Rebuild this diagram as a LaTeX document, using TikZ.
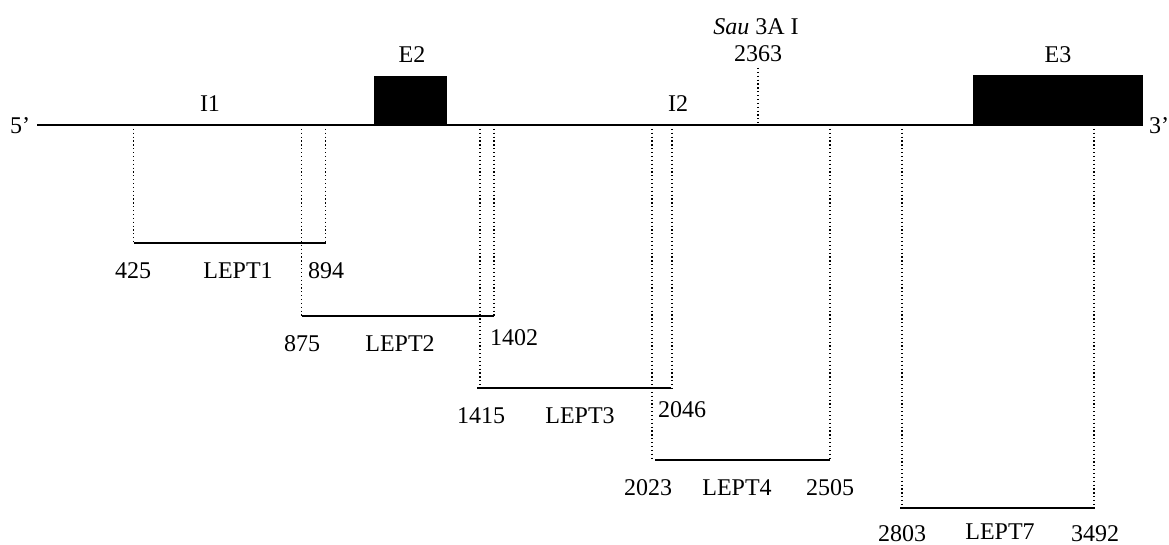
\documentclass[tikz,border=0pt]{standalone}
\usepackage{fontspec}
\setmainfont{Liberation Serif}
\begin{document}
\begin{tikzpicture}[x=0.75pt,y=-0.75pt,
  lbl/.style={inner sep=0pt,anchor=base,font=\fontsize{18}{21}\selectfont},
  strand/.style={line width=1.5pt},
  frag/.style={line width=1.5pt},
  guide/.style={dotted,line width=0.9pt},
  exon/.style={fill=black}]
\useasboundingbox (0,0) rectangle (1169,545);
% main strand
\coordinate (s5) at (37,125);
\coordinate (s3) at (1143,125);
\draw[strand] (s5) -- (s3);
% exons
\fill[exon] (374,76) rectangle (447,125);
\fill[exon] (973,75) rectangle (1143,125);
% labels on strand
\node[lbl] (l5) at (20,134) {5’};
\node[lbl] (l3) at (1159,134) {3’};
\node[lbl] (lI1) at (210,112) {I1};
\node[lbl] (lI2) at (678,112) {I2};
\node[lbl] (lE2) at (412,63) {E2};
\node[lbl] (lE3) at (1058,63) {E3};
\node[lbl] (lsau) at (756,35) {\textit{Sau} 3A I};
\node[lbl] (l2363) at (758,62) {2363};
\coordinate (sauTop) at (758,68);
\coordinate (sauBot) at (758,125);
\draw[guide] (sauTop) -- (sauBot);
% strand points
\coordinate (a425) at (133.5,125);
\coordinate (a875) at (301.5,125);
\coordinate (a894) at (325.5,125);
\coordinate (a1402) at (494,125);
\coordinate (a1415) at (480,125);
\coordinate (a2046) at (672,125);
\coordinate (a2023) at (652,125);
\coordinate (a2505) at (830,125);
\coordinate (a2803) at (902,125);
\coordinate (a3492) at (1094,125);
% fragment ends
\coordinate (b425) at (133.5,243);
\coordinate (b894) at (325.5,243);
\coordinate (b875) at (301.5,316);
\coordinate (b1402) at (494,316);
\coordinate (b1415) at (480,388);
\coordinate (b2046) at (672,388);
\coordinate (b2023) at (652,460);
\coordinate (b2505) at (830,460);
\coordinate (b2803) at (902,508);
\coordinate (b3492) at (1094,508);
% guides
\foreach \p in {425,875,894,1402,1415,2046,2023,2505,2803,3492}
  \draw[guide] (a\p) -- (b\p);
% fragments
\coordinate (f3s) at (477,388);
\coordinate (f3e) at (671,388);
\coordinate (f4s) at (655,460);
\coordinate (f7s) at (900,508);
\coordinate (f7e) at (1095,508);
\draw[frag] (b425) -- (b894);
\draw[frag] (b875) -- (b1402);
\draw[frag] (f3s) -- (f3e);
\draw[frag] (f4s) -- (b2505);
\draw[frag] (f7s) -- (f7e);
% fragment labels
\node[lbl] (t425) at (133,278) {425};
\node[lbl] (tL1) at (238,278) {LEPT1};
\node[lbl] (t894) at (326,278) {894};
\node[lbl] (t875) at (302,351) {875};
\node[lbl] (tL2) at (400,351) {LEPT2};
\node[lbl] (t1402) at (514,345) {1402};
\node[lbl] (t1415) at (481,423) {1415};
\node[lbl] (tL3) at (580,423) {LEPT3};
\node[lbl] (t2046) at (682,417) {2046};
\node[lbl] (t2023) at (648,495) {2023};
\node[lbl] (tL4) at (737,495) {LEPT4};
\node[lbl] (t2505) at (830,495) {2505};
\node[lbl] (t2803) at (902,541) {2803};
\node[lbl] (tL7) at (1000,539) {LEPT7};
\node[lbl] (t3492) at (1095,541) {3492};
\end{tikzpicture}
\end{document}
